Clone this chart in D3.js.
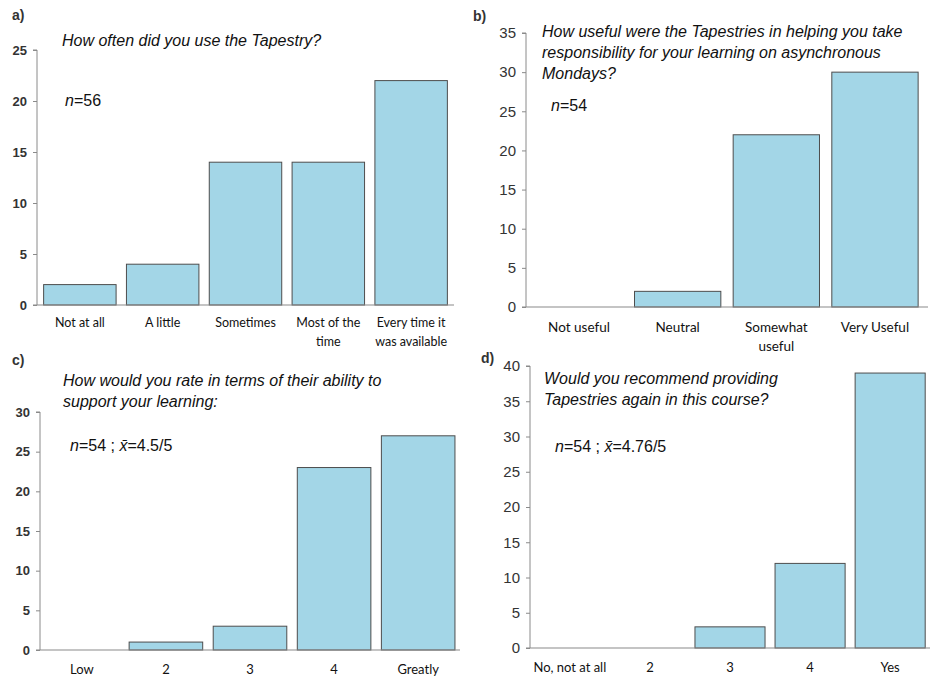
<html>
<head>
<script src="https://d3js.org/d3.v7.min.js"></script>
<style>
    body { margin: 0; background: #fff; }
    svg { display: block; }
</style>
</head>
<body>
<script type="text/javascript">
    ////////////////// data //////////////////
    var catsA = [["Not at all"], ["A little"], ["Sometimes"], ["Most of the", "time"], ["Every time it", "was available"]];
    var valsA = [2, 4, 14, 14, 22];

    var catsB = [["Not useful"], ["Neutral"], ["Somewhat", "useful"], ["Very Useful"]];
    var valsB = [0, 2, 22, 30];

    var catsC = [["Low"], ["2"], ["3"], ["4"], ["Greatly"]];
    var valsC = [0, 1, 3, 23, 27];

    var catsD = [["No, not at all"], ["2"], ["3"], ["4"], ["Yes"]];
    var valsD = [0, 0, 3, 12, 39];

    var titleA = ["How often did you use the Tapestry?"];
    var titleB = ["How useful were the Tapestries in helping you take", "responsibility for your learning on asynchronous", "Mondays?"];
    var titleC = ["How would you rate in terms of their ability to", "support your learning:"];
    var titleD = ["Would you recommend providing", "Tapestries again in this course?"];

    var ticksA = [0, 5, 10, 15, 20, 25];
    var ticksB = [0, 5, 10, 15, 20, 25, 30, 35];
    var ticksC = [0, 5, 10, 15, 20, 25, 30];
    var ticksD = [0, 5, 10, 15, 20, 25, 30, 35, 40];

    ////////////////// settings //////////////////
    var svgWidth = 936;
    var svgHeight = 679;
    var barFill = "#a3d6e7";
    var barStroke = "#4d4d4d";
    var axisColor = "#8a8a8a";
    var sansFont = "'Liberation Sans', Arial, sans-serif";
    var labelFont = "Lato, 'Open Sans', sans-serif";

    var svg = d3.select("body")
        .append("svg")
        .attr("width", svgWidth)
        .attr("height", svgHeight);

    drawPanel({letter: "a)", lx: 12, ly: 20, cats: catsA, vals: valsA, ticks: ticksA,
        x0: 37, x1: 454, yTop: 50, yBot: 305, tickSize: 13, tickBold: true, labSize: 12.5, labY: 327,
        title: titleA, tx: 62, ty: 46, stat: ["56"], sx: 65, sy: 106, po: 0.08});
    drawPanel({letter: "b)", lx: 473, ly: 21, cats: catsB, vals: valsB, ticks: ticksB,
        x0: 526, x1: 928, yTop: 33, yBot: 307, tickSize: 15, tickBold: false, labSize: 13.5, labY: 332,
        title: titleB, tx: 542, ty: 37, stat: ["54"], sx: 551, sy: 111, po: 0.1});
    drawPanel({letter: "c)", lx: 12, ly: 365, cats: catsC, vals: valsC, ticks: ticksC,
        x0: 40, x1: 460, yTop: 412, yBot: 650, tickSize: 13, tickBold: true, labSize: 13, labY: 674,
        title: titleC, tx: 63, ty: 386, stat: ["54", "4.5/5"], sx: 70, sy: 451, po: 0.06});
    drawPanel({letter: "d)", lx: 481, ly: 363, cats: catsD, vals: valsD, ticks: ticksD,
        x0: 530, x1: 930, yTop: 366, yBot: 648, tickSize: 15, tickBold: false, labSize: 13, labY: 672,
        title: titleD, tx: 544, ty: 384, stat: ["54", "4.76/5"], sx: 555, sy: 452, po: 0.06});

    function drawPanel(p) {
        var g = svg.append("g");
        var yMax = p.ticks[p.ticks.length - 1];

        var x = d3.scaleBand()
            .domain(d3.range(p.cats.length))
            .range([p.x0, p.x1])
            .paddingInner(0.125)
            .paddingOuter(p.po);
        var y = d3.scaleLinear()
            .domain([0, yMax])
            .range([p.yBot, p.yTop]);

        // panel letter
        g.append("text")
            .attr("x", p.lx)
            .attr("y", p.ly)
            .style("font-family", sansFont)
            .style("font-size", "14px")
            .style("font-weight", "bold")
            .style("fill", "#333")
            .text(p.letter);

        // y axis
        var yAxis = g.append("g")
            .attr("transform", "translate(" + p.x0 + ",0)")
            .call(d3.axisLeft(y).tickValues(p.ticks).tickSize(4).tickPadding(6).tickFormat(d3.format("d")));
        yAxis.select(".domain").attr("stroke", axisColor).attr("d", "M-4," + p.yTop + "H0V" + p.yBot);
        yAxis.selectAll(".tick line").attr("stroke", axisColor);
        yAxis.selectAll(".tick text")
            .style("font-family", sansFont)
            .style("font-size", p.tickSize + "px")
            .style("font-weight", p.tickBold ? "bold" : "normal")
            .style("fill", "#333");

        // bars
        g.selectAll(".bar")
            .data(p.vals)
            .enter()
            .append("rect")
            .attr("class", "bar")
            .attr("x", function (d, i) { return x(i); })
            .attr("width", x.bandwidth())
            .attr("y", function (d) { return y(d); })
            .attr("height", function (d) { return y(0) - y(d); })
            .style("fill", barFill)
            .style("stroke", function (d) { return d > 0 ? barStroke : "none"; })
            .style("stroke-width", 1);

        // x axis line
        g.append("line")
            .attr("x1", p.x0 - 4)
            .attr("x2", p.x1)
            .attr("y1", y(0))
            .attr("y2", y(0))
            .style("stroke", axisColor)
            .style("stroke-width", 1.2);

        // category labels
        var labs = g.selectAll(".cat")
            .data(p.cats)
            .enter()
            .append("text")
            .attr("class", "cat")
            .attr("text-anchor", "middle")
            .style("font-family", labelFont)
            .style("font-size", p.labSize + "px")
            .style("fill", "#111");
        labs.each(function (lines, i) {
            var t = d3.select(this);
            lines.forEach(function (s, k) {
                t.append("tspan")
                    .attr("x", x(i) + x.bandwidth() / 2)
                    .attr("y", p.labY + k * 19)
                    .text(s);
            });
        });

        // question title
        p.title.forEach(function (s, k) {
            g.append("text")
                .attr("x", p.tx)
                .attr("y", p.ty + k * 21)
                .style("font-family", sansFont)
                .style("font-style", "italic")
                .style("font-size", "16px")
                .style("fill", "#111")
                .text(s);
        });

        // n = ... ; x-bar = ...
        var st = g.append("text")
            .attr("x", p.sx)
            .attr("y", p.sy)
            .style("font-family", sansFont)
            .style("font-size", "16px")
            .style("fill", "#111");
        st.append("tspan").style("font-style", "italic").text("n");
        st.append("tspan").text("=" + p.stat[0]);
        if (p.stat.length > 1) {
            st.append("tspan").text(" ; ");
            st.append("tspan").style("font-style", "italic").text("x\u0304");
            st.append("tspan").text("=" + p.stat[1]);
        }
    }
</script>
</body>
</html>
